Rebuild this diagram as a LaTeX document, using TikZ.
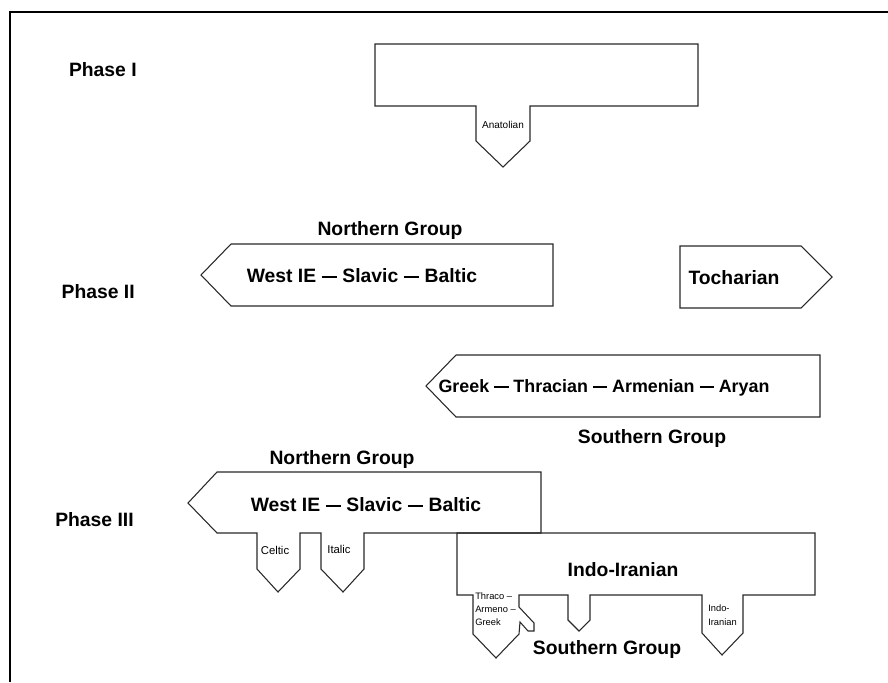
\documentclass[tikz,border=0pt]{standalone}
\usepackage{fontspec}
\setmainfont{Liberation Sans}
\usepackage{tikz}
\definecolor{inkgray}{RGB}{40, 40, 40}
\newcommand{\ldash}{\rule[0.28em]{0.8em}{0.09em}}

\begin{document}
\begin{tikzpicture}[
    x=0.75pt, y=-0.75pt,
    outline/.style={draw=inkgray, line width=0.8pt, line join=miter},
    frame/.style={draw=black, line width=1.6pt},
    phase/.style={anchor=east, font=\fontsize{14.5}{16}\selectfont\bfseries, inner sep=0pt, text height=10.4pt, text depth=0pt},
    group/.style={font=\fontsize{14.5}{16}\selectfont\bfseries, inner sep=0pt, text height=10.4pt, text depth=0pt},
    lang/.style={font=\fontsize{14.5}{16}\selectfont\bfseries, inner sep=0pt, text height=10.4pt, text depth=0pt},
    branch/.style={font=\fontsize{8.5}{10}\selectfont, inner sep=0pt},
    tinylang/.style={font=\fontsize{7}{10}\selectfont, inner sep=0pt, align=left}
]
    \useasboundingbox (0,0) rectangle (888,682);
    \draw[frame] (10,682) -- (10,12) -- (888,12);

    \node[phase] (phaseI) at (137,70) {Phase I};
    \node[phase] (phaseII) at (135,292) {Phase II};
    \node[phase] (phaseIII) at (134,520) {Phase III};

    \draw[outline] (375,44) -- (698,44) -- (698,106) -- (530,106) -- (530,141) -- (503,167)
        -- (476,141) -- (476,106) -- (375,106) -- cycle;
    \node[tinylang, font=\fontsize{7.5}{10}\selectfont] (anatolian) at (503,125) {Anatolian};

    \node[group] (northII) at (390,229) {Northern Group};
    \draw[outline] (201,275) -- (231,244) -- (553,244) -- (553,306) -- (231,306) -- cycle;
    \node[lang] (westII) at (362,276) {West IE \ldash{} Slavic \ldash{} Baltic};
    \draw[outline] (680,246) -- (801,246) -- (832,277) -- (801,308) -- (680,308) -- cycle;
    \node[lang] (tocharian) at (734,278) {Tocharian};
    \draw[outline] (426,386) -- (456,355) -- (820,355) -- (820,417) -- (456,417) -- cycle;
    \node[lang, font=\fontsize{13.4}{16}\selectfont\bfseries] (greek) at (604,386) {Greek \ldash{} Thracian \ldash{} Armenian \ldash{} Aryan};
    \node[group] (southII) at (652,437) {Southern Group};

    \node[group] (northIII) at (342,458) {Northern Group};
    \draw[outline] (188,503) -- (217,472) -- (541,472) -- (541,533) -- (364,533) -- (364,569)
        -- (343,592) -- (321,569) -- (321,533) -- (300,533) -- (300,569) -- (278,592)
        -- (257,569) -- (257,533) -- (217,533) -- cycle;
    \node[lang] (westIII) at (366,505) {West IE \ldash{} Slavic \ldash{} Baltic};
    \node[branch] (celtic) at (275,550) {Celtic};
    \node[branch] (italic) at (339,549) {Italic};

    \draw[outline] (457,533) -- (815,533) -- (815,595) -- (743,595) -- (743,633) -- (722,655)
        -- (702,633) -- (702,595) -- (590,595) -- (590,620) -- (579,631) -- (568,620)
        -- (568,595) -- (519,595) -- (519,607) -- (534,623) -- (534,631) -- (528,631)
        -- (520,622) -- (519,634) -- (496,658) -- (473,634) -- (473,595) -- (457,595) -- cycle;
    \node[lang] (indoiranian) at (623,570) {Indo-Iranian};
    \node[tinylang, anchor=north west] (thraco) at (475,592) {Thraco –\\Armeno –\\Greek};
    \node[tinylang, anchor=west] (indosmall) at (708,615) {Indo-\\Iranian};
    \node[group] (southIII) at (607,648) {Southern Group};
\end{tikzpicture}
\end{document}
